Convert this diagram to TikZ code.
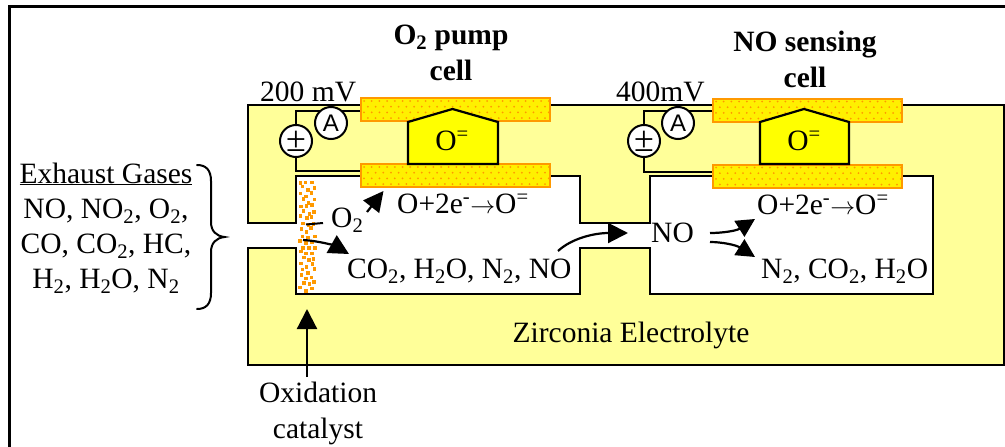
\documentclass[tikz,border=0pt]{standalone}
\usepackage{fontspec}
\setmainfont{Liberation Serif}
\newfontfamily\sansA{Liberation Sans}
\usetikzlibrary{arrows.meta}
\definecolor{bodyyellow}{HTML}{FFFF99}
\definecolor{ionyellow}{HTML}{FFFF00}
\definecolor{elecyellow}{HTML}{FFF000}
\definecolor{elecorange}{HTML}{FF9900}
\newcommand{\sbs}[1]{\textsubscript{#1}}
\newcommand{\sps}[1]{\textsuperscript{#1}}
\newcommand{\rarr}{$\rightarrow$}
\tikzset{
  lbl/.style={anchor=base west,inner sep=0pt,font=\fontsize{29.5}{34}\selectfont},
  lblc/.style={anchor=base,inner sep=0pt,font=\fontsize{29.5}{34}\selectfont},
  boldlbl/.style={anchor=base,inner sep=0pt,font=\fontsize{29.5}{34}\selectfont\bfseries},
  ln/.style={line width=2.4pt,draw=black},
  wire/.style={line width=2pt,draw=black},
  bigarrow/.style={line width=2.2pt,draw=black,-{Triangle[length=20pt,width=20pt]}},
  smallarrow/.style={line width=2.2pt,draw=black,-{Triangle[length=18.5pt,width=18.5pt]}},
  meter/.style={circle,draw=black,line width=2pt,fill=white,minimum size=32pt,inner sep=0pt},
  electrode/.style={rectangle,draw=elecorange,line width=2pt,fill=elecyellow,
    minimum width=189pt,minimum height=23pt,inner sep=0pt,
    path picture={
      \foreach \r in {0,...,3}{
        \foreach \c in {0,...,24}{
          \pgfmathsetmacro{\dx}{\c*7.7+mod(\r,2)*3.85+3}
          \pgfmathsetmacro{\dy}{-(\r*5.7+3)}
          \fill[elecorange] ([xshift=\dx pt,yshift=\dy pt]path picture bounding box.north west) circle (1pt);
        }
      }
    }},
  ion/.style={draw=black,line width=2.2pt,fill=ionyellow,line join=miter}
}
\begin{document}
\begin{tikzpicture}[x=1pt,y=-1pt]
\useasboundingbox (0,0) rectangle (1005,447);
% frame
\coordinate (frA) at (9.5,447);
\coordinate (frB) at (9.5,6.5);
\coordinate (frC) at (1005,6.5);
\draw[ln] (frA) -- (frB) -- (frC);
% body
\draw[ln,fill=bodyyellow,line join=miter]
  (248,223) -- (248,105) -- (1004,105) -- (1004,365) -- (248,365) -- (248,248)
  -- (296,248) -- (296,294) -- (580,294) -- (580,248) -- (650,248) -- (650,294)
  -- (933,294) -- (933,176) -- (650,176) -- (650,223) -- (580,223) -- (580,176)
  -- (296,176) -- (296,223) -- cycle;
% catalyst
\pgfmathsetseed{5}
\foreach \r in {0,...,18}{
  \foreach \c in {0,...,2}{
    \pgfmathsetmacro{\px}{298+\c*5.6+mod(\r,2)*2.4+rnd*1.8}
    \pgfmathsetmacro{\py}{178.5+\r*5.9+rnd*3+mod(\c,2)*2}
    \fill[elecorange] (\px,\py) rectangle ++(3.6,3.6);
  }
}
% electrodes
\node[electrode] (ep1) at (455.5,109.5) {};
\node[electrode] (eb1) at (455.5,175.5) {};
\node[electrode] (ep2) at (807.5,110) {};
\node[electrode] (eb2) at (807.5,176) {};
% ion conductors
\draw[ion] (408,164) -- (408,122) -- (452.5,109) -- (498,122) -- (498,164) -- cycle;
\draw[ion] (760,164) -- (760,122) -- (804,109) -- (849,122) -- (849,164) -- cycle;
\node[lblc] (ionA) at (452,150) {O\sps{=}};
\node[lblc] (ionB) at (804,150) {O\sps{=}};
% circuits
\coordinate (w1a) at (360,110.5);
\coordinate (w1b) at (296,110.5);
\coordinate (w1c) at (296,171);
\coordinate (w1d) at (360,171);
\coordinate (w2a) at (712,111);
\coordinate (w2b) at (643.5,111);
\coordinate (w2c) at (643.5,171.5);
\coordinate (w2d) at (712,171.5);
\draw[wire] (w1a) -- (w1b) -- (w1c) -- (w1d);
\draw[wire] (w2a) -- (w2b) -- (w2c) -- (w2d);
\node[meter,font=\fontsize{36}{36}\selectfont] (bat1) at (296,141) {±};
\node[meter,font=\sansA\fontsize{24}{24}\selectfont] (am1) at (331,123) {A};
\node[meter,font=\fontsize{36}{36}\selectfont] (bat2) at (644,141) {±};
\node[meter,font=\sansA\fontsize{24}{24}\selectfont] (am2) at (678,123) {A};
% labels
\node[boldlbl] (t1) at (451,44) {O\sbs{2} pump};
\node[boldlbl] (t2) at (451,80) {cell};
\node[boldlbl] (t3) at (805,51) {NO sensing};
\node[boldlbl] (t4) at (805,87) {cell};
\node[lbl] (v1) at (260,101) {200 mV};
\node[lbl] (v2) at (616,101) {400mV};
\node[lbl] (r1) at (397,213) {O+2e\sps{-}\rarr O\sps{=}};
\node[lbl] (r2) at (757,214) {O+2e\sps{-}\rarr O\sps{=}};
\node[lbl] (o2) at (331,227) {O\sbs{2}};
\node[lbl] (p1) at (347,278) {CO\sbs{2}, H\sbs{2}O, N\sbs{2}, NO};
\node[lbl] (no) at (651,242) {NO};
\node[lbl] (p2) at (761,278) {N\sbs{2}, CO\sbs{2}, H\sbs{2}O};
\node[lblc] (zr) at (631,342) {Zirconia Electrolyte};
\node[lblc] (ox1) at (318,402) {Oxidation};
\node[lblc] (ox2) at (318,438) {catalyst};
% exhaust gases
\node[lblc] (g0) at (106,183) {\underline{Exhaust Gases}};
\node[lblc] (g1) at (106,218) {NO, NO\sbs{2}, O\sbs{2},};
\node[lblc] (g2) at (106,253) {CO, CO\sbs{2}, HC,};
\node[lblc] (g3) at (106,288) {H\sbs{2}, H\sbs{2}O, N\sbs{2}};
% brace
\coordinate (brT) at (197,165);
\coordinate (brM) at (224.5,237);
\coordinate (brB) at (197,309);
\draw[line width=2pt,line cap=round] (brT) .. controls (206,165) and (211,170) .. (211,181)
  -- (211,222) .. controls (211,231) and (216,236) .. (brM)
  .. controls (216,238) and (211,243) .. (211,252)
  -- (211,293) .. controls (211,304) and (206,309) .. (brB);
% arrows
\coordinate (aO2s) at (306,224.5);
\coordinate (aO2e) at (323,223);
\draw[wire] (aO2s) -- (aO2e);
\coordinate (aUpS) at (367,212);
\coordinate (aUpE) at (383.5,191);
\draw[bigarrow] (aUpS) -- (aUpE);
\coordinate (aCs) at (303,240);
\coordinate (aCe) at (349,254);
\draw[bigarrow] (aCs) .. controls (320,241) and (335,246) .. (aCe);
\coordinate (aNs) at (558,251);
\coordinate (aNe) at (628,233);
\draw[bigarrow] (aNs) .. controls (572,238) and (595,233) .. (aNe);
\coordinate (aRs) at (710,233);
\coordinate (aRe) at (755,219);
\draw[smallarrow] (aRs) .. controls (722,233) and (736,231) .. (aRe);
\coordinate (aLs) at (710,242);
\coordinate (aLe) at (755,257);
\draw[smallarrow] (aLs) .. controls (722,242) and (736,245) .. (aLe);
\coordinate (aKs) at (307,377);
\coordinate (aKe) at (307,309);
\draw[bigarrow] (aKs) -- (aKe);
\end{tikzpicture}
\end{document}
